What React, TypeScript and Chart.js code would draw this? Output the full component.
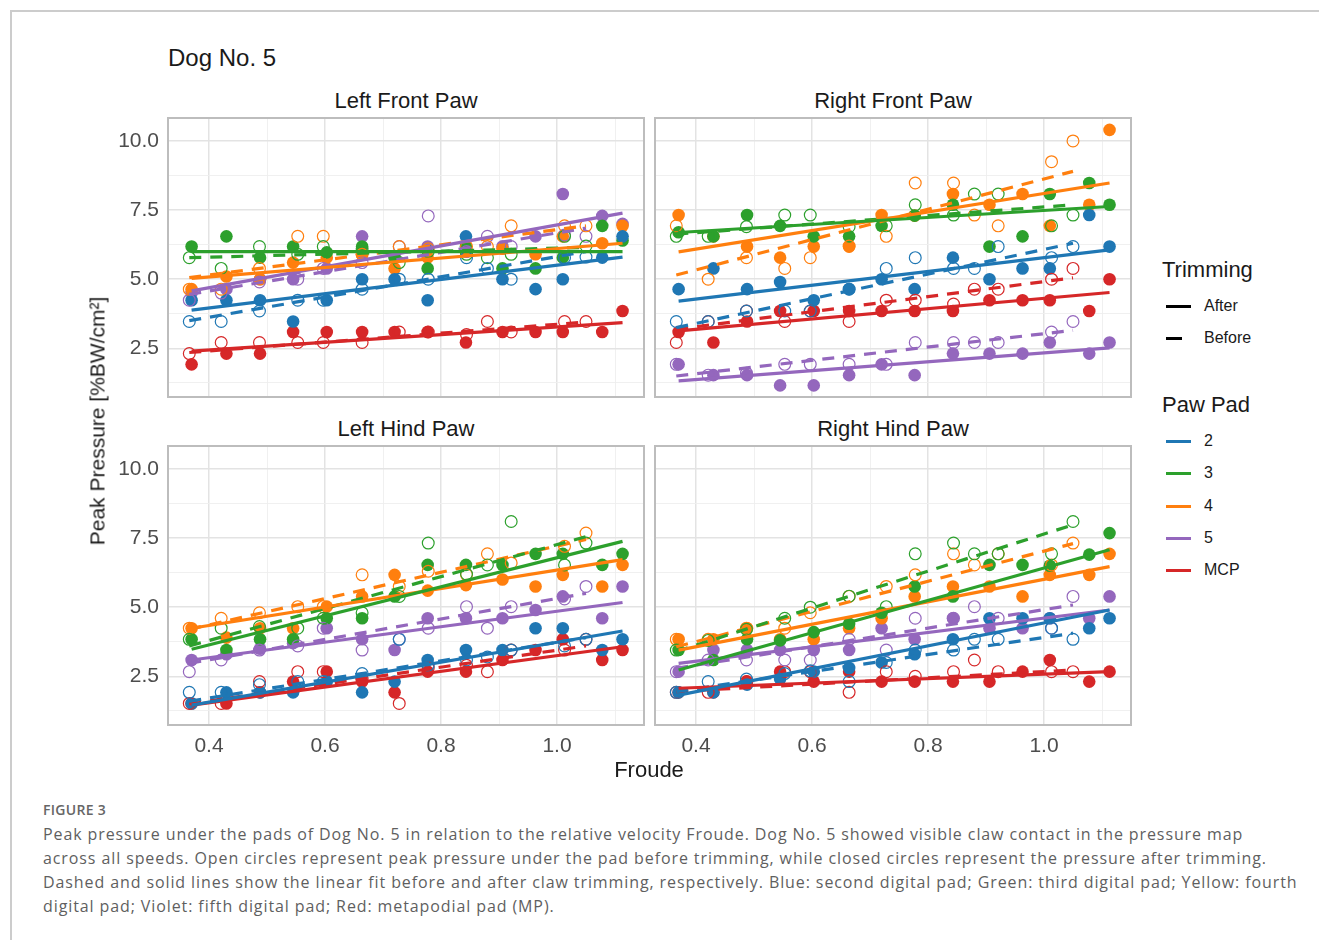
import React, { useEffect, useRef } from "react";
import { Chart, registerables } from "chart.js";
Chart.register(...registerables);

const FONT = "'Liberation Sans', Arial, Helvetica, sans-serif";
const CAPTION_FONT = "'Open Sans', 'Noto Sans', sans-serif";

const PAD_NAMES = ["2", "3", "4", "5", "MCP"];
const PAD_COLORS = ["#1f77b4", "#2ca02c", "#ff7f0e", "#9467bd", "#d62728"];

const FROUDE_AFTER = [0.37, 0.43, 0.488, 0.545, 0.603, 0.664, 0.72, 0.777, 0.843, 0.906, 0.963, 1.01, 1.078, 1.113];
const FROUDE_BEFORE = [0.366, 0.421, 0.487, 0.553, 0.597, 0.664, 0.728, 0.778, 0.844, 0.88, 0.921, 1.013, 1.05];

const X_MIN = 0.3293;
const X_MAX = 1.15;
const Y_MIN = 0.74;
const Y_MAX = 10.83;
const X_GRID = [0.4, 0.5, 0.6, 0.7, 0.8, 0.9, 1.0, 1.1];
const Y_GRID = [1.25, 2.5, 3.75, 5, 6.25, 7.5, 8.75, 10];

// ---- Left Front Paw ----
const LF_AFTER_2 = [4.24, 4.24, 4.24, 3.47, 4.24, 5.0, 5.0, 4.24, 6.55, 5.0, 4.64, 5.0, 5.78, 6.55];
const LF_AFTER_3 = [6.18, 6.55, 5.78, 6.18, 5.97, 6.18, 5.78, 5.39, 6.18, 5.39, 5.39, 5.78, 6.93, 6.4];
const LF_AFTER_4 = [4.64, 5.1, 5.0, 5.6, 5.78, 5.9, 5.39, 5.78, 6.0, 6.1, 5.9, 6.55, 6.3, 6.93];
const LF_AFTER_5 = [4.5, 4.64, 5.0, 5.0, 5.39, 6.55, 5.8, 6.18, 6.1, 6.18, 6.55, 8.08, 7.29, 7.0];
const LF_AFTER_MCP = [1.92, 2.31, 2.31, 3.09, 3.09, 3.09, 3.09, 3.09, 2.71, 3.09, 3.09, 3.09, 3.09, 3.85];
const LF_BEFORE_2 = [3.47, 3.47, 3.85, 4.24, 4.24, 4.64, 5.0, 5.0, 5.78, 5.39, 5.0, 5.78, 5.8];
const LF_BEFORE_3 = [5.78, 5.39, 6.18, 5.9, 6.18, 6.1, 5.6, 6.0, 5.9, 5.78, 5.9, 6.55, 6.2];
const LF_BEFORE_4 = [4.64, 4.64, 5.39, 6.55, 6.55, 5.9, 6.18, 6.1, 6.18, 6.18, 6.93, 6.93, 6.93];
const LF_BEFORE_5 = [4.24, 4.5, 4.9, 5.0, 5.39, 5.6, 6.18, 7.29, 6.0, 6.55, 6.18, 6.6, 6.55];
const LF_BEFORE_MCP = [2.31, 2.71, 2.71, 2.71, 2.71, 2.71, 3.09, 3.09, 3.0, 3.47, 3.09, 3.47, 3.47];
const LF_FIT_AFTER = [[3.88, 5.8], [6.0, 6.0], [5.03, 6.3], [4.58, 7.39], [2.4, 3.43]];
const LF_FIT_BEFORE = [[3.5, 6.0], [5.78, 6.15], [5.06, 6.93], [4.45, 6.85], [2.35, 3.45]];

// ---- Right Front Paw ----
const RF_AFTER_2 = [4.64, 5.39, 4.64, 4.9, 4.24, 4.64, 5.0, 4.64, 5.78, 5.0, 5.39, 5.39, 7.32, 6.18];
const RF_AFTER_3 = [6.7, 6.55, 7.32, 6.93, 6.55, 6.55, 6.93, 7.3, 7.69, 6.18, 6.55, 8.08, 8.48, 7.69];
const RF_AFTER_4 = [7.32, 6.55, 6.18, 5.78, 6.18, 6.18, 7.32, 7.3, 8.08, 7.69, 8.08, 6.93, 7.69, 10.4];
const RF_AFTER_5 = [1.92, 1.53, 1.53, 1.16, 1.16, 1.53, 1.92, 1.53, 2.31, 2.31, 2.31, 2.71, 2.31, 2.71];
const RF_AFTER_MCP = [3.09, 2.71, 3.47, 3.85, 3.85, 3.85, 3.85, 3.85, 3.85, 4.24, 4.24, 4.24, 3.85, 5.0];
const RF_BEFORE_2 = [3.47, 3.47, 3.85, 3.85, 3.85, 4.64, 5.39, 5.78, 5.39, 5.39, 6.18, 5.78, 6.18];
const RF_BEFORE_3 = [6.55, 6.55, 6.9, 7.32, 7.32, 6.9, 6.93, 7.69, 7.32, 8.08, 8.08, 6.93, 7.32];
const RF_BEFORE_4 = [6.93, 5.0, 5.78, 5.39, 5.78, 6.2, 6.55, 8.48, 8.48, 7.32, 6.93, 9.25, 10.0];
const RF_BEFORE_5 = [1.92, 1.53, 1.6, 1.92, 1.92, 1.92, 1.92, 2.71, 2.71, 2.71, 2.71, 3.09, 3.47];
const RF_BEFORE_MCP = [2.71, 3.47, 3.85, 3.47, 3.85, 3.47, 4.24, 4.24, 4.1, 4.64, 4.64, 5.0, 5.39];
const RF_FIT_AFTER = [[4.21, 6.06], [6.69, 7.63], [5.99, 8.48], [1.32, 2.52], [3.13, 4.52]];
const RF_FIT_BEFORE = [[3.25, 6.3], [6.63, 7.69], [5.15, 8.9], [1.5, 3.15], [3.19, 5.05]];

// ---- Left Hind Paw ----
const LH_AFTER_2 = [1.52, 1.92, 1.92, 1.92, 2.31, 1.92, 2.31, 3.09, 3.45, 3.45, 4.24, 4.24, 3.45, 3.84];
const LH_AFTER_3 = [3.84, 3.45, 3.84, 3.84, 4.6, 4.6, 5.39, 6.53, 6.53, 6.53, 6.93, 6.93, 6.53, 6.93];
const LH_AFTER_4 = [4.24, 3.9, 4.24, 4.24, 5.02, 5.39, 6.17, 5.6, 5.8, 6.0, 5.75, 6.17, 5.75, 6.53];
const LH_AFTER_5 = [3.09, 3.3, 3.5, 3.7, 4.24, 3.84, 3.45, 4.6, 4.6, 4.6, 4.9, 5.39, 4.6, 5.75];
const LH_AFTER_MCP = [1.52, 1.52, 1.92, 2.31, 2.67, 2.31, 1.92, 2.67, 2.67, 3.09, 3.45, 3.84, 3.09, 3.45];
const LH_BEFORE_2 = [1.92, 1.92, 2.2, 2.31, 2.31, 2.6, 3.84, 2.9, 3.09, 3.2, 3.45, 3.6, 3.84];
const LH_BEFORE_3 = [3.84, 4.24, 4.3, 4.24, 4.6, 4.8, 5.39, 7.32, 6.2, 6.53, 8.1, 6.53, 7.32];
const LH_BEFORE_4 = [4.24, 4.6, 4.8, 5.02, 5.02, 6.17, 5.75, 6.3, 6.17, 6.93, 6.6, 7.2, 7.68];
const LH_BEFORE_5 = [2.67, 3.09, 3.45, 3.6, 4.24, 3.45, 3.84, 4.24, 5.02, 4.24, 5.02, 5.3, 5.75];
const LH_BEFORE_MCP = [1.52, 1.52, 2.31, 2.67, 2.67, 2.4, 1.52, 2.8, 2.9, 2.67, 3.45, 3.45, 3.84];
const LH_FIT_AFTER = [[1.46, 4.14], [3.48, 7.38], [4.24, 6.72], [3.09, 5.17], [1.46, 3.57]];
const LH_FIT_BEFORE = [[1.6, 3.9], [3.6, 7.55], [4.2, 7.45], [2.97, 5.5], [1.5, 3.6]];

// ---- Right Hind Paw ----
const RH_AFTER_2 = [1.92, 1.92, 2.2, 2.4, 2.67, 2.8, 3.0, 3.3, 3.84, 4.6, 4.6, 4.6, 4.24, 4.6];
const RH_AFTER_3 = [3.45, 3.09, 3.84, 3.8, 4.1, 4.4, 4.8, 5.75, 5.39, 6.53, 6.53, 6.5, 6.9, 7.68];
const RH_AFTER_4 = [3.84, 3.84, 4.24, 3.84, 3.84, 4.24, 4.6, 5.39, 5.75, 5.75, 5.39, 6.17, 6.17, 6.93];
const RH_AFTER_5 = [2.67, 3.45, 3.45, 3.45, 3.45, 3.45, 4.24, 3.84, 4.6, 4.24, 4.24, 4.6, 4.6, 5.39];
const RH_AFTER_MCP = [1.92, 1.92, 2.31, 2.67, 2.31, 2.67, 2.31, 2.31, 2.31, 2.31, 2.67, 3.09, 2.31, 2.67];
const RH_BEFORE_2 = [1.92, 2.31, 2.4, 2.6, 2.7, 2.31, 3.0, 3.45, 3.45, 3.84, 3.84, 4.24, 3.84];
const RH_BEFORE_3 = [3.45, 3.8, 4.2, 4.6, 5.0, 5.4, 5.02, 6.93, 7.32, 6.93, 6.93, 6.93, 8.1];
const RH_BEFORE_4 = [3.84, 3.84, 4.24, 4.24, 4.8, 5.39, 5.75, 6.17, 6.93, 6.53, 6.93, 6.53, 7.32];
const RH_BEFORE_5 = [2.67, 3.09, 3.09, 3.09, 3.09, 3.84, 3.45, 4.6, 4.6, 5.02, 4.6, 4.24, 5.39];
const RH_BEFORE_MCP = [1.92, 1.92, 2.31, 2.67, 2.67, 1.92, 2.67, 2.5, 2.67, 3.09, 2.67, 2.67, 2.67];
const RH_FIT_AFTER = [[1.82, 4.9], [2.73, 7.08], [3.45, 6.47], [2.97, 4.9], [2.07, 2.67]];
const RH_FIT_BEFORE = [[1.95, 4.06], [3.4, 7.98], [3.57, 7.3], [2.79, 5.08], [1.95, 2.73]];

type PanelDef = {
  title: string;
  after: number[][];
  before: number[][];
  fitAfter: number[][];
  fitBefore: number[][];
  showX: boolean;
  showY: boolean;
  areaLeft: number;
  areaTop: number;
  areaW: number;
  areaH: number;
};

const Y_AXIS_W = 60;
const X_AXIS_H = 40;
const PAD = 3;

const PANELS: PanelDef[] = [
  {
    title: "Left Front Paw",
    after: [LF_AFTER_2, LF_AFTER_3, LF_AFTER_4, LF_AFTER_5, LF_AFTER_MCP],
    before: [LF_BEFORE_2, LF_BEFORE_3, LF_BEFORE_4, LF_BEFORE_5, LF_BEFORE_MCP],
    fitAfter: LF_FIT_AFTER, fitBefore: LF_FIT_BEFORE,
    showX: false, showY: true, areaLeft: 168, areaTop: 118, areaW: 476, areaH: 279,
  },
  {
    title: "Right Front Paw",
    after: [RF_AFTER_2, RF_AFTER_3, RF_AFTER_4, RF_AFTER_5, RF_AFTER_MCP],
    before: [RF_BEFORE_2, RF_BEFORE_3, RF_BEFORE_4, RF_BEFORE_5, RF_BEFORE_MCP],
    fitAfter: RF_FIT_AFTER, fitBefore: RF_FIT_BEFORE,
    showX: false, showY: false, areaLeft: 655, areaTop: 118, areaW: 476, areaH: 279,
  },
  {
    title: "Left Hind Paw",
    after: [LH_AFTER_2, LH_AFTER_3, LH_AFTER_4, LH_AFTER_5, LH_AFTER_MCP],
    before: [LH_BEFORE_2, LH_BEFORE_3, LH_BEFORE_4, LH_BEFORE_5, LH_BEFORE_MCP],
    fitAfter: LH_FIT_AFTER, fitBefore: LH_FIT_BEFORE,
    showX: true, showY: true, areaLeft: 168, areaTop: 446, areaW: 476, areaH: 279,
  },
  {
    title: "Right Hind Paw",
    after: [RH_AFTER_2, RH_AFTER_3, RH_AFTER_4, RH_AFTER_5, RH_AFTER_MCP],
    before: [RH_BEFORE_2, RH_BEFORE_3, RH_BEFORE_4, RH_BEFORE_5, RH_BEFORE_MCP],
    fitAfter: RH_FIT_AFTER, fitBefore: RH_FIT_BEFORE,
    showX: true, showY: false, areaLeft: 655, areaTop: 446, areaW: 476, areaH: 279,
  },
];

const isMajorX = (v: number) => Math.round(v * 10) % 2 === 0;
const isMajorY = (v: number) => Math.round(v * 4) % 10 === 0;

const framePlugin = {
  id: "panelFrame",
  afterDraw(chart: any) {
    const { ctx, chartArea: a } = chart;
    ctx.save();
    ctx.strokeStyle = "#bdbdbd";
    ctx.lineWidth = 2;
    ctx.strokeRect(a.left, a.top, a.right - a.left, a.bottom - a.top);
    ctx.restore();
  },
};

function Panel({ p }: { p: PanelDef }) {
  const ref = useRef<HTMLCanvasElement>(null);
  const yW = p.showY ? Y_AXIS_W : 0;
  const xH = p.showX ? X_AXIS_H : 0;
  const cw = PAD + yW + p.areaW + PAD;
  const ch = PAD + p.areaH + xH + PAD;
  const left = p.areaLeft - yW - PAD;
  const top = p.areaTop - PAD;

  useEffect(() => {
    if (!ref.current) return;
    const datasets: any[] = [];
    const aMin = Math.min(...FROUDE_AFTER);
    const aMax = Math.max(...FROUDE_AFTER);
    const bMin = Math.min(...FROUDE_BEFORE);
    const bMax = Math.max(...FROUDE_BEFORE);
    p.fitAfter.forEach((f, i) => {
      datasets.push({
        data: [{ x: aMin, y: f[0] }, { x: aMax, y: f[1] }],
        showLine: true, borderColor: PAD_COLORS[i], borderWidth: 3.2,
        pointRadius: 0, order: 0, borderCapStyle: "butt",
      });
    });
    p.fitBefore.forEach((f, i) => {
      datasets.push({
        data: [{ x: bMin, y: f[0] }, { x: bMax, y: f[1] }],
        showLine: true, borderColor: PAD_COLORS[i], borderWidth: 3.2,
        borderDash: [12, 9], pointRadius: 0, order: 0, borderCapStyle: "butt",
      });
    });
    p.before.forEach((vals, i) => {
      datasets.push({
        data: vals.map((v, j) => ({ x: FROUDE_BEFORE[j], y: v })),
        showLine: false, pointRadius: 5.9, pointBorderWidth: 1.2,
        pointBackgroundColor: "rgba(0,0,0,0)", pointBorderColor: PAD_COLORS[i],
        order: 1,
      });
    });
    p.after.forEach((vals, i) => {
      datasets.push({
        data: vals.map((v, j) => ({ x: FROUDE_AFTER[j], y: v })),
        showLine: false, pointRadius: 6.3, pointBorderWidth: 0,
        pointBackgroundColor: PAD_COLORS[i], pointBorderColor: PAD_COLORS[i],
        order: 1,
      });
    });

    const chart = new Chart(ref.current, {
      type: "scatter",
      data: { datasets },
      options: {
        animation: false,
        responsive: false,
        maintainAspectRatio: false,
        devicePixelRatio: 1,
        layout: { padding: PAD, autoPadding: false },
        plugins: { legend: { display: false }, tooltip: { enabled: false } },
        events: [],
        scales: {
          x: {
            type: "linear",
            min: X_MIN,
            max: X_MAX,
            afterBuildTicks: (s: any) => {
              s.ticks = X_GRID.map((v) => ({ value: v }));
            },
            afterFit: (s: any) => {
              s.height = xH;
              s.paddingLeft = 0;
              s.paddingRight = 0;
              s.paddingTop = 0;
              s.paddingBottom = 0;
            },
            border: { display: false },
            grid: {
              drawTicks: false,
              color: (c: any) => (c.tick && isMajorX(c.tick.value) ? "#e3e3e3" : "#eeeeee"),
              lineWidth: (c: any) => (c.tick && isMajorX(c.tick.value) ? 1.5 : 0.9),
            },
            ticks: {
              display: p.showX,
              autoSkip: false,
              maxRotation: 0,
              padding: 9,
              color: "#4d4d4d",
              font: { family: FONT, size: 21 },
              callback: (v: any) => (isMajorX(Number(v)) ? Number(v).toFixed(1) : ""),
            },
          },
          y: {
            type: "linear",
            min: Y_MIN,
            max: Y_MAX,
            afterBuildTicks: (s: any) => {
              s.ticks = Y_GRID.map((v) => ({ value: v }));
            },
            afterFit: (s: any) => {
              s.width = yW;
              s.paddingLeft = 0;
              s.paddingRight = 0;
              s.paddingTop = 0;
              s.paddingBottom = 0;
            },
            border: { display: false },
            grid: {
              drawTicks: false,
              color: (c: any) => (c.tick && isMajorY(c.tick.value) ? "#e3e3e3" : "#eeeeee"),
              lineWidth: (c: any) => (c.tick && isMajorY(c.tick.value) ? 1.5 : 0.9),
            },
            ticks: {
              display: p.showY,
              autoSkip: false,
              padding: 9,
              color: "#4d4d4d",
              font: { family: FONT, size: 21 },
              callback: (v: any) => (isMajorY(Number(v)) ? Number(v).toFixed(1) : ""),
            },
          },
        },
      },
      plugins: [framePlugin],
    } as any);
    return () => chart.destroy();
  }, []);

  return (
    <canvas
      ref={ref}
      width={cw}
      height={ch}
      style={{ position: "absolute", left, top, width: cw, height: ch }}
    />
  );
}

function Txt(props: {
  x: number; y: number; size: number; children: React.ReactNode;
  align?: "left" | "center"; color?: string; family?: string; weight?: number; extra?: React.CSSProperties;
}) {
  const { x, y, size, align = "left", color = "#1a1a1a", family = FONT, weight = 400 } = props;
  return (
    <div
      style={{
        position: "absolute",
        left: x,
        top: y,
        transform: align === "center" ? "translate(-50%, -50%)" : "translate(0, -50%)",
        fontSize: size,
        lineHeight: 1,
        fontFamily: family,
        fontWeight: weight,
        color,
        whiteSpace: "nowrap",
        ...(props.extra || {}),
      }}
    >
      {props.children}
    </div>
  );
}

const CAPTION_LINES = [
  "Peak pressure under the pads of Dog No. 5 in relation to the relative velocity Froude. Dog No. 5 showed visible claw contact in the pressure map",
  "across all speeds. Open circles represent peak pressure under the pad before trimming, while closed circles represent the pressure after trimming.",
  "Dashed and solid lines show the linear fit before and after claw trimming, respectively. Blue: second digital pad; Green: third digital pad; Yellow: fourth",
  "digital pad; Violet: fifth digital pad; Red: metapodial pad (MP).",
];

export default function App() {
  useEffect(() => {
    document.body.style.margin = "0";
  }, []);
  const legendY = [441, 473, 506, 538, 570];
  return (
    <div style={{ position: "absolute", left: 0, top: 0, width: 1319, height: 940, background: "#fff", overflow: "hidden" }}>
      <div style={{ position: "absolute", left: 10, top: 10, width: 1309, height: 0, borderTop: "2px solid #cccccc" }} />
      <div style={{ position: "absolute", left: 10, top: 10, width: 0, height: 930, borderLeft: "2px solid #cccccc" }} />

      <Txt x={168} y={58} size={24}>Dog No. 5</Txt>
      <Txt x={406} y={101} size={22} align="center">Left Front Paw</Txt>
      <Txt x={893} y={101} size={22} align="center">Right Front Paw</Txt>
      <Txt x={406} y={429} size={22} align="center">Left Hind Paw</Txt>
      <Txt x={893} y={429} size={22} align="center">Right Hind Paw</Txt>

      {PANELS.map((p, i) => (
        <Panel key={i} p={p} />
      ))}

      <Txt x={649} y={770} size={22} align="center">Froude</Txt>
      <Txt x={97} y={421} size={21} align="center" extra={{ transform: "translate(-50%, -50%) rotate(-90deg)" }}>
        Peak Pressure [%BW/cm²]
      </Txt>

      <Txt x={1162} y={270} size={22}>Trimming</Txt>
      <div style={{ position: "absolute", left: 1166, top: 304.5, width: 25, height: 3, background: "#000" }} />
      <Txt x={1204} y={306} size={16}>After</Txt>
      <div style={{ position: "absolute", left: 1166, top: 336.5, width: 16, height: 3, background: "#000" }} />
      <Txt x={1204} y={338} size={16}>Before</Txt>

      <Txt x={1162} y={405} size={22}>Paw Pad</Txt>
      {PAD_NAMES.map((n, i) => (
        <React.Fragment key={n}>
          <div style={{ position: "absolute", left: 1166, top: legendY[i] - 1.5, width: 25, height: 3, background: PAD_COLORS[i] }} />
          <Txt x={1204} y={legendY[i]} size={16}>{n}</Txt>
        </React.Fragment>
      ))}

      <Txt x={43} y={810} size={14} color="#666666" family={CAPTION_FONT} weight={600} extra={{ letterSpacing: 0.3 }}>FIGURE 3</Txt>
      {CAPTION_LINES.map((l, i) => (
        <Txt key={i} x={43} y={834 + i * 24} size={16} color="#5f5f5f" family={CAPTION_FONT} extra={{ letterSpacing: 0.9 }}>
          {l}
        </Txt>
      ))}
    </div>
  );
}
